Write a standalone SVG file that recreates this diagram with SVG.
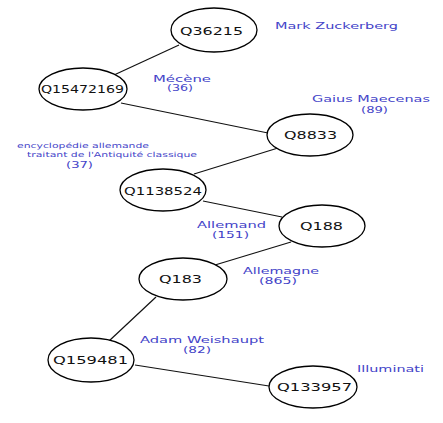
<svg xmlns="http://www.w3.org/2000/svg" width="443" height="423" viewBox="0 0 443 423">
<style>
.n ellipse{fill:#fff;stroke:#000;stroke-width:1.3}
.n text{font-family:"DejaVu Sans",sans-serif;font-size:11px;fill:#111}
.e line{stroke:#111;stroke-width:1.2}
.l{font-family:"DejaVu Sans",sans-serif;font-size:9px;fill:#4343c8}
.s{font-size:7px}
</style>
<rect width="443" height="423" fill="#fff"/>
<g class="e" id="connectors">
<line x1="179" y1="45" x2="114" y2="75"/>
<line x1="121" y1="103" x2="268" y2="133"/>
<line x1="278" y1="148" x2="194" y2="174"/>
<line x1="203" y1="201" x2="282" y2="217"/>
<line x1="291" y1="242" x2="215" y2="265"/>
<line x1="156" y1="297" x2="109" y2="341"/>
<line x1="135" y1="365" x2="269" y2="386"/>
</g>
<g class="n" id="Q36215"><ellipse cx="214" cy="30" rx="43" ry="22"/><text x="180" y="35" textLength="63" lengthAdjust="spacingAndGlyphs">Q36215</text></g>
<g class="n" id="Q15472169"><ellipse cx="83" cy="89" rx="44" ry="21"/><text x="41" y="93" textLength="83" lengthAdjust="spacingAndGlyphs">Q15472169</text></g>
<g class="n" id="Q8833"><ellipse cx="310" cy="135" rx="43" ry="21"/><text x="284" y="139" textLength="53" lengthAdjust="spacingAndGlyphs">Q8833</text></g>
<g class="n" id="Q1138524"><ellipse cx="163" cy="190" rx="43" ry="21"/><text x="124" y="195" textLength="78" lengthAdjust="spacingAndGlyphs">Q1138524</text></g>
<g class="n" id="Q188"><ellipse cx="322" cy="226" rx="43" ry="21"/><text x="300" y="230" textLength="43" lengthAdjust="spacingAndGlyphs">Q188</text></g>
<g class="n" id="Q183"><ellipse cx="183" cy="279" rx="44" ry="21"/><text x="159" y="283" textLength="43" lengthAdjust="spacingAndGlyphs">Q183</text></g>
<g class="n" id="Q159481"><ellipse cx="91" cy="360" rx="43" ry="22"/><text x="53" y="364" textLength="75" lengthAdjust="spacingAndGlyphs">Q159481</text></g>
<g class="n" id="Q133957"><ellipse cx="313" cy="387" rx="44" ry="21"/><text x="277" y="391" textLength="75" lengthAdjust="spacingAndGlyphs">Q133957</text></g>
<g id="labels">
<text class="l" x="275" y="29" textLength="123" lengthAdjust="spacingAndGlyphs">Mark Zuckerberg</text>
<text class="l" x="153" y="82" textLength="58" lengthAdjust="spacingAndGlyphs">Mécène</text>
<text class="l" x="167" y="91" textLength="26" lengthAdjust="spacingAndGlyphs">(36)</text>
<text class="l" x="312" y="102" textLength="118" lengthAdjust="spacingAndGlyphs">Gaius Maecenas</text>
<text class="l" x="361" y="113" textLength="27" lengthAdjust="spacingAndGlyphs">(89)</text>
<text class="l s" x="17" y="148" textLength="132" lengthAdjust="spacingAndGlyphs">encyclopédie allemande</text>
<text class="l s" x="27" y="157" textLength="170" lengthAdjust="spacingAndGlyphs">traitant de l'Antiquité classique</text>
<text class="l" x="66" y="168" textLength="27" lengthAdjust="spacingAndGlyphs">(37)</text>
<text class="l" x="197" y="228" textLength="69" lengthAdjust="spacingAndGlyphs">Allemand</text>
<text class="l" x="212" y="238" textLength="37" lengthAdjust="spacingAndGlyphs">(151)</text>
<text class="l" x="243" y="274" textLength="76" lengthAdjust="spacingAndGlyphs">Allemagne</text>
<text class="l" x="259" y="284" textLength="38" lengthAdjust="spacingAndGlyphs">(865)</text>
<text class="l" x="140" y="343" textLength="124" lengthAdjust="spacingAndGlyphs">Adam Weishaupt</text>
<text class="l" x="183" y="353" textLength="28" lengthAdjust="spacingAndGlyphs">(82)</text>
<text class="l" x="357" y="372" textLength="67" lengthAdjust="spacingAndGlyphs">Illuminati</text>
</g>
</svg>
